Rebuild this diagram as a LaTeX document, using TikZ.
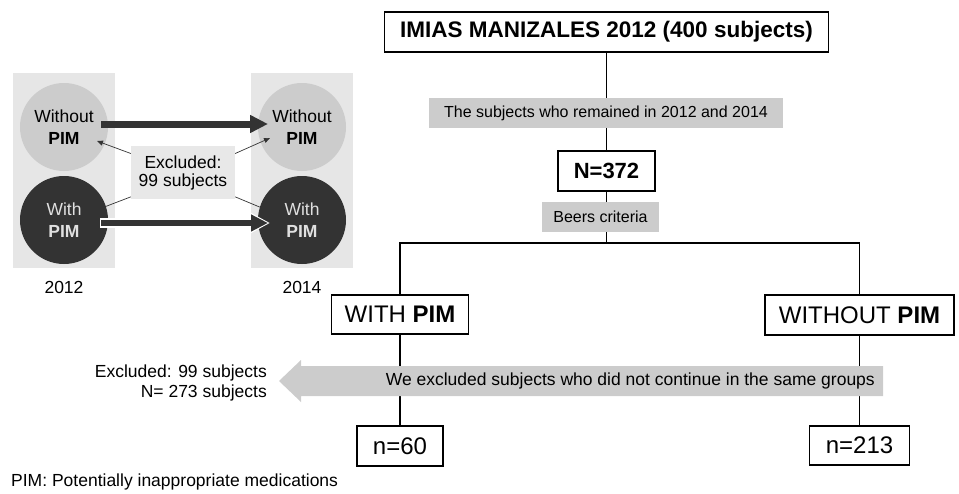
\documentclass[tikz,border=0pt]{standalone}
\usepackage{fontspec}
\setmainfont{Liberation Sans}
\usepackage{tikz}
\usetikzlibrary{arrows.meta,calc}
\definecolor{darkgrey}{HTML}{333333}
\definecolor{midgrey}{HTML}{CCCCCC}
\definecolor{lightgrey}{HTML}{E6E6E6}
\definecolor{exclgrey}{HTML}{E8E8E8}

\begin{document}
\begin{tikzpicture}[x=1pt,y=-1pt,
		box/.style={draw=black,line width=1.3pt,fill=white,inner sep=0pt},
		greybox/.style={fill=midgrey,inner sep=0pt,font=\fontsize{16}{19}\selectfont},
		dot/.style={circle,inner sep=0pt,minimum size=88pt,align=center,font=\fontsize{17.5}{22}\selectfont},
		conn/.style={draw=black,line width=1.2pt},
		thinarrow/.style={draw=darkgrey,line width=0.7pt},
		small/.style={inner sep=0pt,font=\fontsize{17.5}{20}\selectfont}]
		\useasboundingbox (0,0) rectangle (959,493);
		\fill [lightgrey] (13,73) rectangle (115,268);
		\fill [lightgrey] (251,73) rectangle (353,268);
		\node [dot,fill=midgrey] (wo12) at (64,127) {Without\\\textbf{PIM}};
		\node [dot,fill=darkgrey,text=white!88!black] (w12) at (64,220) {With\\\textbf{PIM}};
		\node [dot,fill=midgrey] (wo14) at (302,127) {Without\\\textbf{PIM}};
		\node [dot,fill=darkgrey,text=white!88!black] (w14) at (302,220) {With\\\textbf{PIM}};
		\node [small] (y12) at (64,287) {2012};
		\node [small] (y14) at (302,287) {2014};
		\node [fill=exclgrey,inner sep=0pt,minimum width=104pt,minimum height=53pt,align=center,font=\fontsize{17.5}{18}\selectfont] (excl) at (183,172.5) {Excluded:\\99 subjects};
		\draw [darkgrey,line width=7pt,-{Triangle[length=18pt,width=17pt]}] ($(wo12)+(37,-3)$) -- ($(wo14)+(-34,-3)$);
		\draw [white,line width=9.5pt,-{Triangle[length=21pt,width=21pt]}] ($(w12)+(36,3)$) -- ($(w14)+(-32,3)$);
		\draw [darkgrey,line width=6pt,-{Triangle[length=17pt,width=16pt]}] ($(w12)+(37,3)$) -- ($(w14)+(-34,3)$);
		\draw [thinarrow,-{Triangle[length=6pt,width=5pt]}] (excl.160) -- ($(wo12)+(33,14)$);
		\draw [thinarrow,-{Triangle[length=6pt,width=5pt]}] (excl.20) -- ($(wo14)+(-32,11)$);
		\draw [thinarrow] (excl.205) -- (w12.18);
		\draw [thinarrow] (excl.335) -- (w14.163);
		\node [box,minimum width=444pt,minimum height=40pt,font=\bfseries\fontsize{22.5}{26}\selectfont] (title) at (606.5,32) {IMIAS MANIZALES 2012 (400 subjects)};
		\node [box,minimum width=97pt,minimum height=40pt,font=\bfseries\fontsize{22}{26}\selectfont] (n372) at (606.5,171) {N=372};
		\node [box,minimum width=137pt,minimum height=39pt,font=\fontsize{24}{28}\selectfont] (with) at (400,314.5) {WITH \textbf{PIM}};
		\node [box,minimum width=189pt,minimum height=40pt,font=\fontsize{24}{28}\selectfont] (without) at (859.5,315) {WITHOUT \textbf{PIM}};
		\node [box,minimum width=86pt,minimum height=40pt,font=\fontsize{24}{28}\selectfont] (n60) at (400,446) {n=60};
		\node [box,minimum width=100pt,minimum height=39pt,font=\fontsize{24}{28}\selectfont] (n213) at (859.5,445.5) {n=213};
		\coordinate (fork) at (606.5,243);
		\draw [conn] (title.south) -- (n372.north);
		\draw [conn] (n372.south) -- (fork);
		\draw [conn] (with.north) |- (fork) -| (without.north);
		\draw [conn] (with.south) -- (n60.north);
		\draw [conn] (without.south) -- (n213.north);
		\node [greybox,minimum width=354pt,minimum height=30pt] (remain) at (606,113) {The subjects who remained in 2012 and 2014};
		\node [greybox,minimum width=117pt,minimum height=30pt] (beers) at (600.5,217) {Beers criteria};
		\fill [midgrey] (883,366) -- (301,366) -- (301,360) -- (279,381) -- (301,402) -- (301,396) -- (883,396) -- cycle;
		\node [small,anchor=east] (band) at (875,381) {We excluded subjects who did not continue in the same groups};
		\node [small,anchor=east,align=right] (kept) at (267,383) {Excluded: 99 subjects\\N= 273 subjects};
		\node [small,anchor=west] (note) at (11,482) {PIM: Potentially inappropriate medications};
	\end{tikzpicture}
\end{document}
